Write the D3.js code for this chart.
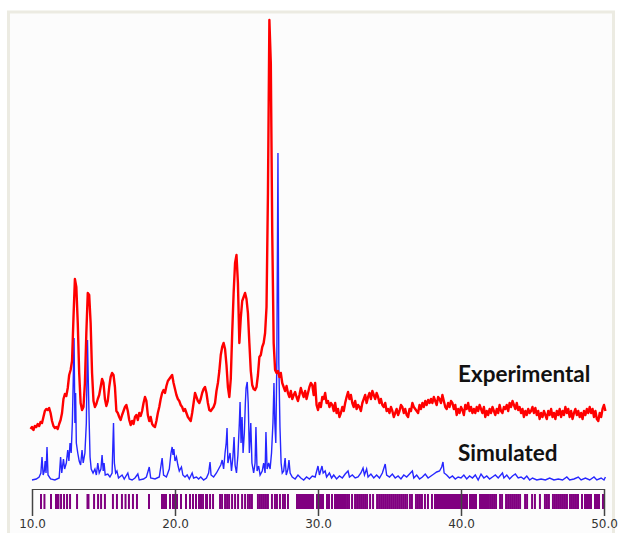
<!DOCTYPE html>
<html lang="en">
<head>
<meta charset="utf-8">
<title>XRD: experimental vs simulated pattern</title>
<script src="https://d3js.org/d3.v7.min.js"></script>
<style>
    body { margin: 0; background: #fff; }
    .tick text { font-family: "DejaVu Sans", sans-serif; font-size: 12px; fill: #333; }
    .tick line { stroke: #444; }
    .label { font-family: Lato, "Liberation Sans", sans-serif; font-weight: 700; font-size: 22.5px; fill: #111; }
</style>
</head>
<body>
<script>

var w = 618;
var h = 533;

// 2-theta ticks
var xTicks = [10, 20, 30, 40, 50];

// experimental scan, sampled every 0.1 deg from 9.9
var expStart = 9.9;
var expStep = 0.1;
var expCounts = [
    54,
    56, 53, 57, 56, 59, 57, 61, 60, 66, 72,
    74, 73, 75, 70, 62, 57, 55, 56, 54, 59,
    63, 70, 84, 89, 87, 95, 108, 113, 122, 165,
    204, 196, 160, 110, 80, 73, 76, 100, 150, 190,
    188, 160, 110, 82, 76, 79, 84, 88, 96, 104,
    100, 84, 77, 82, 96, 106, 110, 108, 96, 72,
    70, 66, 63, 68, 72, 76, 78, 72, 63, 58,
    62, 59, 66, 68, 63, 70, 67, 72, 80, 86,
    82, 68, 62, 66, 59, 57, 56, 62, 70, 76,
    84, 90, 93, 90, 97, 102, 104, 106, 108, 100,
    94, 88, 84, 82, 78, 76, 72, 74, 70, 66,
    64, 62, 70, 80, 90, 86, 82, 80, 84, 90,
    94, 96, 90, 80, 73, 72, 74, 76, 80, 92,
    100, 112, 128, 136, 140, 134, 118, 96, 86, 104,
    150, 190, 220, 228, 200, 140, 165, 182, 186, 190,
    184, 170, 140, 112, 98, 94, 93, 96, 108, 126,
    128, 136, 140, 150, 176, 290, 463, 420, 250, 140,
    113, 110, 112, 106, 110, 100, 96, 92, 97, 90,
    86, 92, 84, 88, 91, 86, 82, 88, 95, 90,
    86, 92, 84, 90, 96, 100, 98, 88, 100, 78,
    73, 80, 76, 86, 84, 90, 80, 82, 76, 80,
    78, 72, 80, 70, 74, 66, 70, 76, 72, 80,
    86, 91, 84, 88, 80, 76, 82, 74, 78, 76,
    72, 80, 84, 88, 80, 86, 90, 84, 92, 88,
    84, 90, 86, 80, 84, 78, 76, 80, 72, 74,
    70, 76, 72, 66, 70, 74, 68, 72, 78, 76,
    70, 74, 68, 66, 74, 72, 80, 76, 74, 72,
    70, 78, 74, 80, 76, 82, 78, 83, 80, 84,
    80, 86, 82, 78, 86, 84, 80, 88, 82, 76,
    74, 80, 76, 82, 80, 74, 78, 68, 74, 70,
    76, 73, 68, 78, 74, 80, 72, 76, 70, 74,
    70, 76, 72, 78, 74, 70, 76, 66, 72, 68,
    74, 70, 76, 72, 68, 74, 70, 78, 72, 70,
    76, 74, 78, 72, 80, 76, 82, 78, 74, 80,
    73, 76, 70, 74, 66, 72, 68, 74, 70, 72,
    76, 70, 75, 68, 72, 64, 70, 66, 72, 68,
    64, 72, 68, 74, 66, 70, 64, 72, 68, 74,
    66, 72, 68, 76, 70, 74, 66, 72, 64, 70,
    74, 68, 72, 66, 70, 64, 72, 68, 74, 70,
    76, 70, 74, 66, 72, 64, 62, 70, 66, 74,
    78, 72
];

// simulated pattern [2theta, intensity]
var simPattern = [
    [10.0, 3], [10.3, 4], [10.5, 6], [10.62, 10], [10.7, 26], [10.78, 8], [10.86, 12], [10.92, 22],
    [10.98, 10], [11.05, 36], [11.12, 8], [11.3, 4], [11.6, 3], [11.9, 5], [12.0, 26], [12.08, 10],
    [12.2, 24], [12.28, 14], [12.4, 20], [12.5, 33], [12.58, 22], [12.66, 40], [12.74, 30], [12.82, 60],
    [12.88, 100], [12.94, 145], [13.0, 60], [13.05, 90], [13.1, 40], [13.2, 30], [13.3, 22], [13.4, 18],
    [13.5, 33], [13.58, 20], [13.7, 30], [13.8, 60], [13.88, 143], [13.94, 100], [14.0, 60], [14.06, 26],
    [14.14, 14], [14.27, 10], [14.4, 14], [14.5, 8], [14.6, 20], [14.7, 10], [14.82, 14], [14.9, 28],
    [14.98, 12], [15.04, 20], [15.12, 8], [15.3, 9], [15.45, 6], [15.6, 10], [15.7, 60], [15.76, 20],
    [15.85, 10], [15.94, 12], [16.05, 5], [16.3, 8], [16.45, 4], [16.7, 10], [16.8, 4], [17.0, 3],
    [17.2, 5], [17.4, 9], [17.5, 3], [17.8, 4], [18.0, 6], [18.2, 16], [18.3, 5], [18.6, 4],
    [18.9, 6], [19.1, 25], [19.2, 8], [19.4, 6], [19.6, 14], [19.72, 30], [19.8, 36], [19.86, 28],
    [19.92, 34], [20.0, 22], [20.1, 26], [20.2, 18], [20.3, 12], [20.45, 16], [20.55, 8], [20.7, 6],
    [20.85, 8], [21.0, 4], [21.2, 10], [21.3, 5], [21.5, 6], [21.65, 4], [21.8, 6], [22.0, 3],
    [22.2, 5], [22.35, 10], [22.45, 21], [22.52, 8], [22.7, 6], [22.9, 10], [23.05, 14], [23.2, 18],
    [23.3, 23], [23.4, 14], [23.5, 30], [23.58, 40], [23.64, 55], [23.7, 20], [23.85, 30], [23.95, 12],
    [24.05, 26], [24.13, 46], [24.2, 18], [24.3, 10], [24.4, 28], [24.5, 60], [24.55, 81], [24.62, 40],
    [24.69, 66], [24.76, 30], [24.85, 50], [24.92, 80], [24.97, 95], [25.05, 101], [25.12, 80], [25.2, 30],
    [25.3, 60], [25.38, 20], [25.5, 10], [25.6, 20], [25.66, 56], [25.74, 12], [25.85, 17], [25.95, 8],
    [26.1, 12], [26.2, 20], [26.3, 10], [26.36, 51], [26.44, 14], [26.55, 20], [26.65, 14], [26.75, 30],
    [26.85, 60], [26.92, 100], [26.98, 60], [27.05, 40], [27.12, 120], [27.2, 330], [27.26, 120], [27.34, 56],
    [27.42, 20], [27.5, 10], [27.6, 12], [27.7, 25], [27.78, 8], [27.9, 14], [27.97, 23], [28.05, 10],
    [28.2, 6], [28.4, 4], [28.6, 8], [28.8, 5], [29.0, 3], [29.2, 6], [29.4, 4], [29.6, 7],
    [29.8, 6], [30.0, 17], [30.1, 8], [30.28, 17], [30.36, 10], [30.5, 12], [30.6, 6], [30.8, 10],
    [30.95, 5], [31.1, 8], [31.3, 4], [31.5, 7], [31.7, 5], [31.9, 9], [32.1, 12], [32.2, 6],
    [32.4, 8], [32.6, 5], [32.8, 6], [33.0, 10], [33.15, 15], [33.25, 8], [33.4, 14], [33.5, 6],
    [33.7, 9], [33.9, 5], [34.1, 8], [34.3, 5], [34.5, 10], [34.7, 19], [34.8, 8], [35.0, 6],
    [35.2, 9], [35.4, 5], [35.6, 7], [35.8, 4], [36.0, 8], [36.2, 6], [36.4, 9], [36.6, 12],
    [36.7, 5], [36.9, 8], [37.1, 4], [37.3, 6], [37.5, 9], [37.7, 5], [37.9, 7], [38.1, 9],
    [38.3, 11], [38.5, 12], [38.65, 16], [38.74, 21], [38.82, 10], [39.0, 8], [39.2, 5], [39.4, 7],
    [39.6, 4], [39.8, 6], [40.0, 5], [40.2, 8], [40.4, 4], [40.6, 7], [40.8, 5], [41.0, 8],
    [41.2, 3], [41.4, 9], [41.6, 5], [41.8, 7], [42.0, 4], [42.2, 6], [42.4, 8], [42.6, 5],
    [42.9, 10], [43.0, 5], [43.2, 8], [43.4, 4], [43.6, 7], [43.8, 9], [44.0, 5], [44.2, 6],
    [44.4, 4], [44.6, 7], [44.8, 3], [45.0, 5], [45.3, 3], [45.6, 4], [45.9, 3], [46.2, 5],
    [46.5, 3], [46.8, 4], [47.1, 3], [47.4, 6], [47.6, 3], [47.9, 4], [48.2, 6], [48.4, 3],
    [48.7, 5], [49.0, 3], [49.3, 6], [49.5, 3], [49.8, 5], [50.0, 3], [50.1, 6]
];

// calculated reflection positions (2theta)
var reflections = [
    10.63, 10.87, 11.33, 11.68, 11.78, 11.85, 12.03, 12.24, 12.45, 12.66, 13.15, 13.88, 13.95,
    14.34, 14.62, 14.83, 15.10, 15.66, 15.94, 16.29, 16.54, 16.78, 17.06, 17.34, 18.18,
    19.09, 19.23, 19.37, 19.65, 19.86, 20.00, 20.14, 20.42, 20.77, 21.05, 21.26, 21.47, 21.68,
    21.82, 21.96, 22.17, 22.24, 22.45, 22.66, 23.15, 23.29, 23.50, 23.64, 23.78, 23.99, 24.20,
    24.41, 24.69, 24.90, 25.10, 25.24, 25.38, 25.80, 25.94, 26.08, 26.22, 26.36, 26.50, 26.78,
    26.99, 27.13, 27.34, 27.55, 27.69, 27.90, 28.53, 28.67, 28.81, 28.95, 29.09, 29.23, 29.37,
    29.51, 29.65, 29.93, 30.07, 30.21, 30.35, 30.63, 30.77, 30.98, 31.19, 31.33, 31.47, 31.61,
    31.75, 31.89, 32.03, 32.17, 32.38, 32.59, 32.73, 32.87, 33.01, 33.15, 33.29, 33.43, 33.64,
    33.85, 34.13, 34.27, 34.41, 34.55, 34.69, 34.83, 34.97, 35.11, 35.25, 35.39, 35.53, 35.67,
    35.81, 35.95, 36.09, 36.23, 36.43, 36.57, 36.85, 36.99, 37.13, 37.27, 37.48, 37.69, 37.97,
    38.18, 38.32, 38.46, 38.60, 38.74, 38.88, 39.02, 39.16, 39.30, 39.44, 39.58, 39.72, 39.86,
    40.00, 40.14, 40.28, 40.42, 40.63, 40.77, 40.91, 41.05, 41.33, 41.47, 41.61, 41.75, 41.89,
    42.03, 42.17, 42.31, 42.45, 42.73, 42.87, 43.15, 43.29, 43.43, 43.57, 43.71, 43.85, 43.99,
    44.13, 44.48, 44.62, 44.97, 45.17, 45.52, 45.87, 46.01, 46.15, 46.43, 46.57, 46.71, 46.85,
    46.99, 47.13, 47.27, 47.41, 47.62, 47.76, 47.90, 48.04, 48.18, 48.46, 48.67, 48.81, 48.95,
    49.09, 49.37, 49.51, 49.65, 49.93
];

var seriesNames = ["Experimental", "Simulated"];
var seriesColors = ["#ff0000", "#2626ff"];

var svg = d3.select("body")
        .append("svg")
        .attr("width", w)
        .attr("height", h);

// frame of the plot window
svg.append("rect")
        .attr("x", 8.5).attr("y", 12)
        .attr("width", 605).attr("height", 560)
        .attr("fill", "#fcfcfc")
        .attr("stroke", "#ecebe2")
        .attr("stroke-width", 3);

var x = d3.scaleLinear().domain([10, 50]).range([32, 604]);
var y = d3.scaleLinear().domain([0, 470]).range([483, 13]);

var line = d3.line()
        .x(function (d) { return x(d[0]); })
        .y(function (d) { return y(d[1]); });

var expData = expCounts.map(function (c, i) { return [expStart + i * expStep, c]; });

// reflection marks under the axis
svg.append("g")
        .selectAll("line")
        .data(reflections)
        .enter()
        .append("line")
        .attr("x1", function (d) { return x(d); })
        .attr("x2", function (d) { return x(d); })
        .attr("y1", 494)
        .attr("y2", 509)
        .attr("stroke", "#800080")
        .attr("stroke-width", 2);

svg.append("path")
        .datum(simPattern)
        .attr("d", line)
        .attr("fill", "none")
        .attr("stroke", seriesColors[1])
        .attr("stroke-width", 1.4);

svg.append("path")
        .datum(expData)
        .attr("d", line)
        .attr("fill", "none")
        .attr("stroke", seriesColors[0])
        .attr("stroke-width", 2.4)
        .attr("stroke-linejoin", "round");

var axis = svg.append("g")
        .attr("transform", "translate(0,489)")
        .call(d3.axisBottom(x)
                .tickValues(xTicks)
                .tickFormat(d3.format(".1f"))
                .tickSize(27)
                .tickPadding(3));

// plain baseline instead of the axis domain path
axis.select(".domain").remove();
axis.append("line")
        .attr("x1", x(10)).attr("x2", x(50))
        .attr("y1", 0.5).attr("y2", 0.5)
        .attr("stroke", "#444")
        .attr("stroke-width", 1.2);

axis.selectAll(".tick line").attr("stroke-width", 1.5);

svg.selectAll(".label")
        .data(seriesNames)
        .enter()
        .append("text")
        .attr("class", "label")
        .attr("x", 458)
        .attr("y", function (d, i) { return i === 0 ? 382 : 461; })
        .text(function (d) { return d; });

</script>
</body>
</html>
